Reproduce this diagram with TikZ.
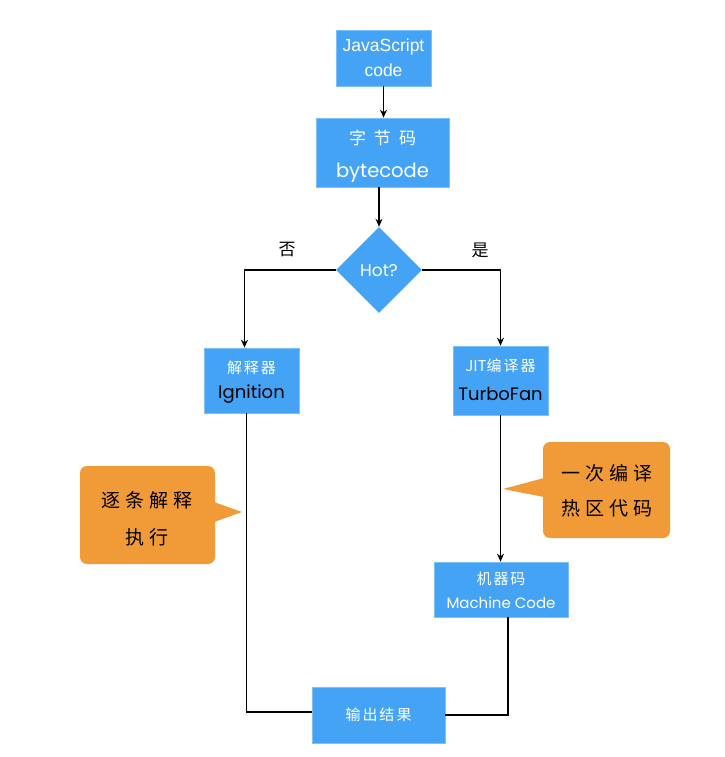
\documentclass[tikz,border=0pt]{standalone}
\usepackage{fontspec}
\setmainfont{Liberation Sans}
\newfontfamily\cjk{Noto Sans CJK SC}
\newfontfamily\hand{Poppins}
\usetikzlibrary{shapes.geometric,arrows.meta}
\definecolor{boxblue}{HTML}{45A3F6}
\definecolor{callor}{HTML}{F19A38}
\newcommand{\fsz}[1]{\fontsize{#1}{#1}\selectfont}
\tikzset{
  box/.style={fill=boxblue, draw=boxblue!70!white, line width=0.6pt, inner sep=0pt},
  wtxt/.style={text=white, inner sep=0pt, align=center},
  btxt/.style={text=black, inner sep=0pt, align=center},
  conn/.style={draw=black, line width=1.3pt},
  arr/.style={conn, -{Stealth[length=8pt,width=7pt]}},
  bubble/.style={fill=callor, rounded corners=7pt},
}
\begin{document}
\begin{tikzpicture}[x=1pt,y=-1pt]
\useasboundingbox (0,0) rectangle (724,757);
\fill[white] (0,0) rectangle (724,757);

% boxes
\node[box, minimum width=95pt, minimum height=56pt] (js) at (383.5,58) {};
\node[wtxt, font=\fsz{17.5}] (jsA) at (383.5,47) {JavaScript};
\node[wtxt, font=\fsz{17.5}] (jsB) at (383.5,70) {code};

\node[box, minimum width=133pt, minimum height=69pt] (byte) at (382.5,152.5) {};
\node[wtxt, font=\cjk\fsz{17}] (byteA) at (382.5,138) {字\hspace{8pt}节\hspace{8pt}码};
\node[wtxt, font=\hand\fsz{19.5}] (byteB) at (382.5,173) {bytecode};

\node[diamond, fill=boxblue, minimum width=86pt, minimum height=86pt, inner sep=0pt] (hot) at (379,270) {};
\node[wtxt, font=\hand\fsz{17}] (hotT) at (379,271) {Hot?};

\node[btxt, font=\cjk\fsz{17}] (no) at (287,250) {否};
\node[btxt, font=\cjk\fsz{17}] (yes) at (480,250) {是};

\node[box, minimum width=95pt, minimum height=65pt] (ign) at (251.5,380.5) {};
\node[wtxt, font=\cjk\fsz{15}] (ignA) at (251.5,368) {解\hspace{2pt}释\hspace{2pt}器};
\node[btxt, font=\hand\fsz{18}] (ignB) at (251.5,394) {Ignition};

\node[box, minimum width=95pt, minimum height=69pt] (tf) at (500.5,380.5) {};
\node[wtxt, font=\cjk\fsz{15}] (tfA) at (500.5,366) {JIT编\hspace{2pt}译\hspace{2pt}器};
\node[btxt, font=\hand\fsz{18}] (tfB) at (500.5,394) {TurboFan};

\node[box, minimum width=134pt, minimum height=55pt] (mc) at (501,589.5) {};
\node[wtxt, font=\cjk\fsz{15}] (mcA) at (501,579) {机\hspace{2pt}器\hspace{2pt}码};
\node[wtxt, font=\hand\fsz{15}] (mcB) at (501,603) {Machine Code};

\node[box, minimum width=133pt, minimum height=56pt] (out) at (378.5,715) {};
\node[wtxt, font=\cjk\fsz{15}] (outT) at (378.5,715) {输\hspace{2pt}出\hspace{2pt}结\hspace{2pt}果};

% connectors
\draw[arr] (js.south) -- (js.south |- byte.north);
\draw[arr] (byte.south -| hot.north) -- (hot.north);
\draw[arr] (hot.west) -| ([xshift=-7pt]ign.north);
\draw[arr] (hot.east) -| (tf.north);
\draw[arr] (tf.south) -- (tf.south |- mc.north);
\draw[conn] ([xshift=-5pt]ign.south) |- ([yshift=3pt]out.west);
\draw[conn] ([xshift=7pt]mc.south) |- (out.east);

% callouts
\fill[bubble] (80,466) rectangle (215,564);
\fill[callor] (214,502) -- (242,512) -- (214,522) -- cycle;
\node[btxt, font=\cjk\fsz{19}] (cl1) at (147,500) {逐\hspace{5pt}条\hspace{5pt}解\hspace{5pt}释};
\node[btxt, font=\cjk\fsz{19}] (cl2) at (147,537) {执\hspace{5pt}行};

\fill[bubble] (543,442) rectangle (670,538);
\fill[callor] (544,478) -- (503,489) -- (544,497) -- cycle;
\node[btxt, font=\cjk\fsz{19}] (cr1) at (607,473) {一\hspace{5pt}次\hspace{5pt}编\hspace{5pt}译};
\node[btxt, font=\cjk\fsz{19}] (cr2) at (607,508) {热\hspace{5pt}区\hspace{5pt}代\hspace{5pt}码};
\end{tikzpicture}
\end{document}
